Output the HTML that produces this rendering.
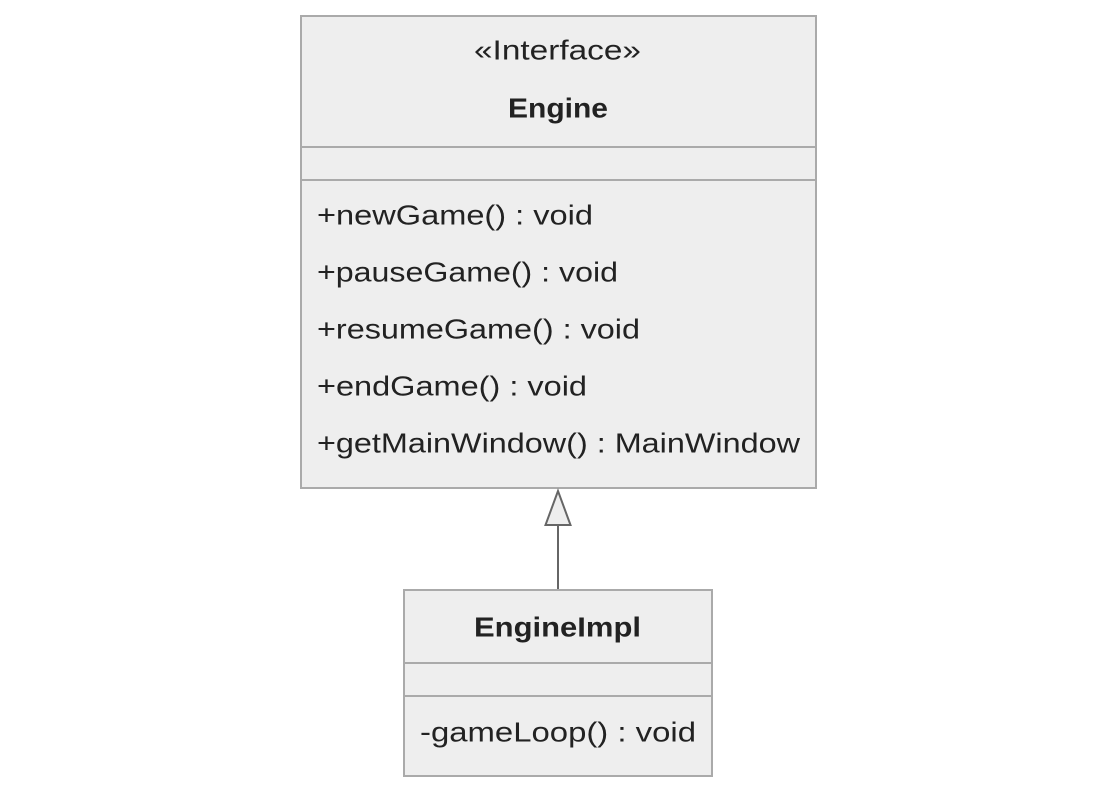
<!DOCTYPE html>
<html><head><meta charset="utf-8"><style>html,body{margin:0;padding:0;background:#fff;width:1116px;height:793px;overflow:hidden}</style></head>
<body>
<svg width="1116" height="793" xmlns="http://www.w3.org/2000/svg" font-family="'Liberation Sans','DejaVu Sans',sans-serif" fill="#222">
<rect x="301" y="16" width="515" height="472" fill="#eeeeee" stroke="#aaaaaa" stroke-width="2"/>
<line x1="301" y1="147" x2="816" y2="147" stroke="#aaaaaa" stroke-width="2"/>
<line x1="301" y1="180" x2="816" y2="180" stroke="#aaaaaa" stroke-width="2"/>
<g font-size="28" dominant-baseline="central">
<text x="474" y="50" textLength="167" lengthAdjust="spacingAndGlyphs">«Interface»</text>
<text x="508" y="108" textLength="100" font-weight="bold" lengthAdjust="spacingAndGlyphs">Engine</text>
<text x="317" y="215" textLength="276" lengthAdjust="spacingAndGlyphs">+newGame() : void</text>
<text x="317" y="272" textLength="301" lengthAdjust="spacingAndGlyphs">+pauseGame() : void</text>
<text x="317" y="329" textLength="323" lengthAdjust="spacingAndGlyphs">+resumeGame() : void</text>
<text x="317" y="386" textLength="270" lengthAdjust="spacingAndGlyphs">+endGame() : void</text>
<text x="317" y="443" textLength="483" lengthAdjust="spacingAndGlyphs">+getMainWindow() : MainWindow</text>
</g>
<line x1="558" y1="525" x2="558" y2="590" stroke="#666" stroke-width="2"/>
<polygon points="558,491 545.5,525 570.5,525" fill="#eeeeee" stroke="#666" stroke-width="2"/>
<rect x="404" y="590" width="308" height="186" fill="#eeeeee" stroke="#aaaaaa" stroke-width="2"/>
<line x1="404" y1="663" x2="712" y2="663" stroke="#aaaaaa" stroke-width="2"/>
<line x1="404" y1="696" x2="712" y2="696" stroke="#aaaaaa" stroke-width="2"/>
<g font-size="28" dominant-baseline="central">
<text x="474" y="627" textLength="167" font-weight="bold" lengthAdjust="spacingAndGlyphs">EngineImpl</text>
<text x="420" y="732" textLength="276" lengthAdjust="spacingAndGlyphs">-gameLoop() : void</text>
</g>
</svg>
</body></html>
